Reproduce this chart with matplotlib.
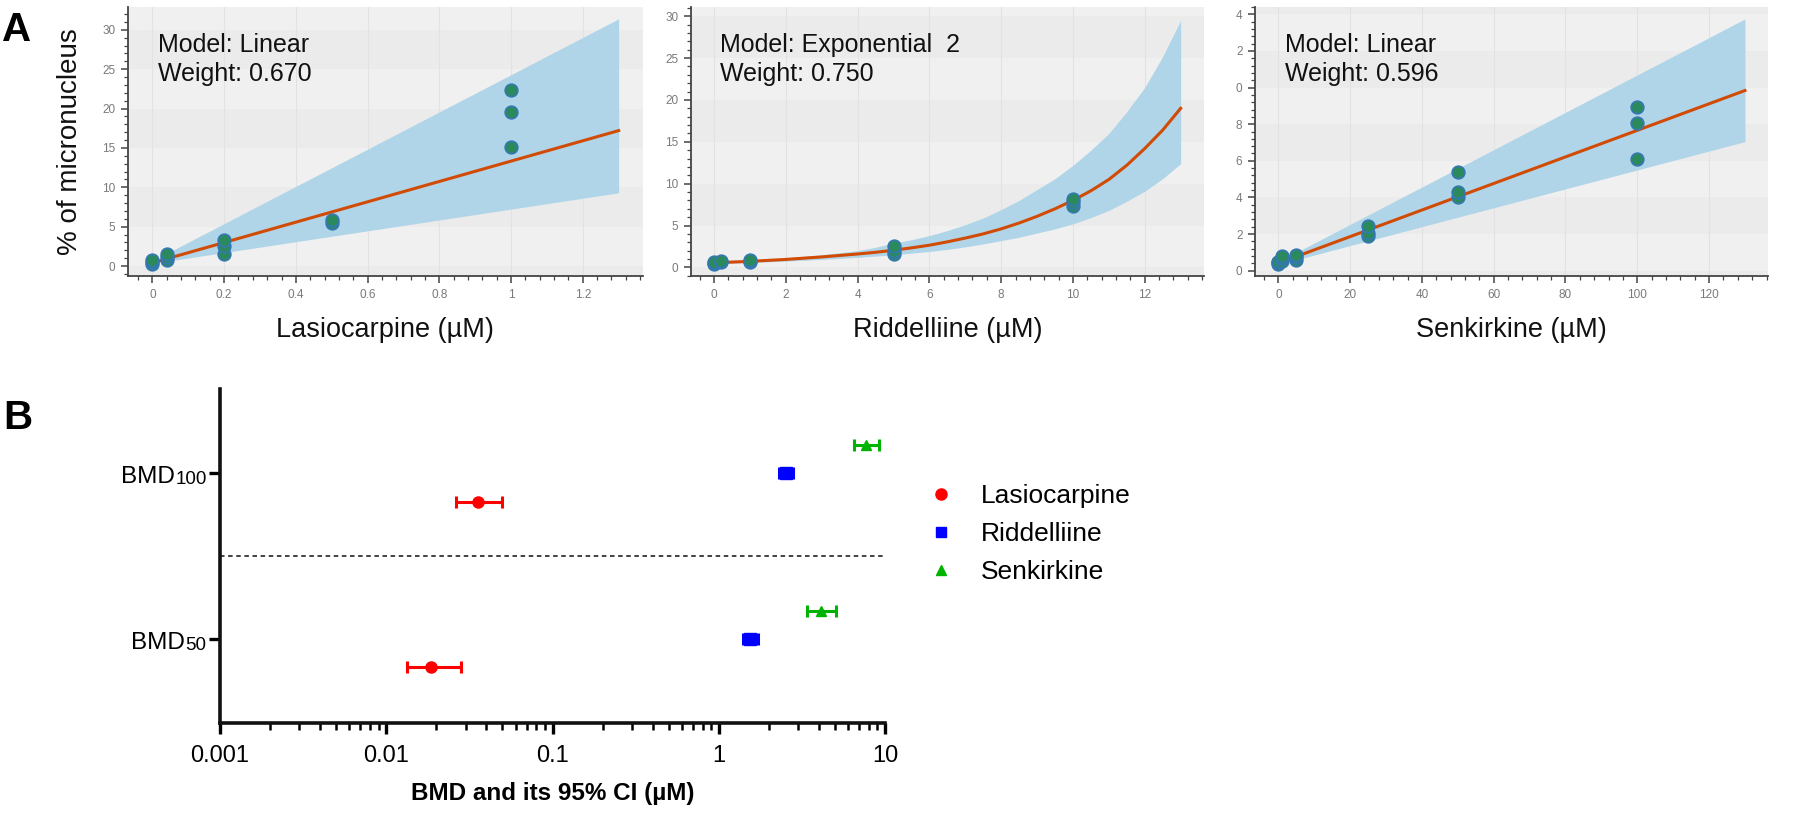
import matplotlib
matplotlib.use("Agg")
import matplotlib.pyplot as plt
from matplotlib.lines import Line2D
from matplotlib.ticker import MultipleLocator, LogLocator, NullFormatter
from matplotlib.transforms import blended_transform_factory, offset_copy

plt.rcParams['font.family'] = ['Liberation Sans', 'DejaVu Sans']

# ---------------- Panel A data ----------------
las_dose = [0, 0, 0, 0.04, 0.04, 0.04, 0.2, 0.2, 0.2, 0.5, 0.5, 1, 1, 1]
las_mn = [0.3, 0.5, 0.8, 0.8, 1.1, 1.5, 1.5, 2.5, 3.3, 5.5, 5.8, 15.1, 19.5, 22.3]
las_fit_x = [0, 1.3]
las_fit_y = [0.4, 17.2]
las_band_x = [0.04, 1.3]
las_band_lo = [0.6, 9.3]
las_band_hi = [1.6, 31.4]

rid_dose = [0, 0, 0, 0.2, 0.2, 1, 1, 1, 5, 5, 5, 10, 10, 10]
rid_mn = [0.4, 0.5, 0.6, 0.6, 0.8, 0.6, 0.8, 0.9, 1.6, 2.0, 2.6, 7.3, 7.8, 8.2]
rid_fit_x = [0, 1, 2, 3, 4, 4.5, 5, 5.5, 6, 6.5, 7, 7.5, 8, 8.5, 9, 9.5, 10,
             10.5, 11, 11.5, 12, 12.5, 13]
rid_fit_y = [0.55, 0.72, 0.95, 1.25, 1.6, 1.8, 2.05, 2.33, 2.65, 3.05, 3.5, 4.0, 4.6,
             5.3, 6.1, 7.0, 8.0, 9.15, 10.5, 12.2, 14.2, 16.4, 19.0]
rid_band_lo = [0.45, 0.58, 0.75, 0.95, 1.2, 1.35, 1.5, 1.7, 1.9, 2.15, 2.45, 2.8, 3.2,
               3.6, 4.1, 4.6, 5.2, 5.95, 6.8, 7.9, 9.1, 10.6, 12.4]
rid_band_hi = [0.65, 0.85, 1.1, 1.5, 2.0, 2.4, 2.9, 3.3, 3.8, 4.4, 5.1, 5.9, 6.9,
               8.0, 9.3, 10.6, 12.2, 14.0, 16.0, 18.6, 21.5, 25.2, 29.5]

sen_dose = [0, 0, 0, 1, 1, 1, 5, 5, 5, 25, 25, 25, 50, 50, 50, 100, 100, 100]
sen_mn = [0.35, 0.45, 0.5, 0.55, 0.7, 0.8, 0.6, 0.75, 0.85, 1.9, 2.05, 2.45,
          4.05, 4.3, 5.4, 6.1, 8.05, 8.95]
sen_fit_x = [0, 130]
sen_fit_y = [0.41, 9.84]
sen_band_x = [1, 130]
sen_band_lo = [0.39, 7.05]
sen_band_hi = [0.59, 13.75]

x_labels_A = ['Lasiocarpine (µM)', 'Riddelliine (µM)', 'Senkirkine (µM)']
models = ['Model: Linear\nWeight: 0.670', 'Model: Exponential  2\nWeight: 0.750',
          'Model: Linear\nWeight: 0.596']
x_ticks_1 = [0, 0.2, 0.4, 0.6, 0.8, 1, 1.2]
x_ticklabels_1 = ['0', '0.2', '0.4', '0.6', '0.8', '1', '1.2']
x_ticks_2 = [0, 2, 4, 6, 8, 10, 12]
x_ticks_3 = [0, 20, 40, 60, 80, 100, 120]
y_ticks_12 = [0, 5, 10, 15, 20, 25, 30]
y_ticks_3 = [0, 2, 4, 6, 8, 10, 12, 14]
y_ticklabels_3 = ['0', '2', '4', '6', '8', '0', '2', '4']

# ---------------- Panel B data ----------------
compounds = ['Lasiocarpine', 'Riddelliine', 'Senkirkine']
bmd_names = ['50', '100']
bmd50 = [0.0186, 1.55, 4.1]
bmd50_lo = [0.0134, 1.40, 3.4]
bmd50_hi = [0.028, 1.72, 5.05]
bmd100 = [0.0355, 2.53, 7.7]
bmd100_lo = [0.0264, 2.30, 6.5]
bmd100_hi = [0.0494, 2.80, 9.2]
b_colors = ['#ff0000', '#0000ff', '#00b300']
b_markers = ['o', 's', '^']
b_offsets = [-0.17, 0.0, 0.17]

W, H = 1800, 836
fig = plt.figure(figsize=(W / 100, H / 100), dpi=100)
fig.patch.set_facecolor('white')


def px_axes(l, r, t, b):
    return fig.add_axes([l / W, 1 - b / H, (r - l) / W, (b - t) / H])


BG_DARK = '#ebebeb'
BG_LIGHT = '#f0f0f0'
BAND = '#b0d5e8'
LINE = '#d24b05'
PT_FACE = '#2b8a5c'
PT_EDGE = '#3478b0'


def style_A(ax, xlim, ylim, xticks, yticks, xminor, yminor, xticklabels=None, yticklabels=None):
    ax.set_xlim(*xlim)
    ax.set_ylim(*ylim)
    ax.set_facecolor(BG_DARK)
    edges = sorted(set([ylim[0]] + list(yticks) + [ylim[1]]))
    for i in range(len(edges) - 1):
        if i % 2 == 1:
            ax.axhspan(edges[i], edges[i + 1], color=BG_LIGHT, zorder=0, lw=0)
    ax.set_xticks(xticks)
    ax.set_yticks(yticks)
    if xticklabels is not None:
        ax.set_xticklabels(xticklabels)
    if yticklabels is not None:
        ax.set_yticklabels(yticklabels)
    ax.xaxis.set_minor_locator(MultipleLocator(xminor))
    ax.yaxis.set_minor_locator(MultipleLocator(yminor))
    for t in xticks:
        ax.axvline(t, color='#e2e2e2', lw=0.8, zorder=0.5)
    for s in ['top', 'right']:
        ax.spines[s].set_visible(False)
    for s in ['left', 'bottom']:
        ax.spines[s].set_color('#444444')
        ax.spines[s].set_linewidth(1.3)
    ax.tick_params(which='major', direction='out', length=5, width=1.1, color='#444444',
                   labelsize=8.5, labelcolor='#7a7a7a', pad=4)
    ax.tick_params(which='minor', direction='out', length=3, width=0.9, color='#444444')


axes_px = [(128, 642.7), (690.7, 1204), (1255, 1768.3)]
top_px, bot_px = 7, 276
axA = [px_axes(l, r, top_px, bot_px) for (l, r) in axes_px]

ax = axA[0]
style_A(ax, (-0.068, 1.367), (-1.27, 32.9), x_ticks_1, y_ticks_12, 0.04, 1,
        xticklabels=x_ticklabels_1)
ax.fill_between(las_band_x, las_band_lo, las_band_hi, color=BAND, lw=0, zorder=1)
ax.plot(las_fit_x, las_fit_y, color=LINE, lw=2.2, zorder=3)
ax.plot(las_dose, las_mn, 'o', ms=9, mfc=PT_FACE, mec=PT_EDGE, mew=1.3, zorder=4)

ax = axA[1]
style_A(ax, (-0.65, 13.65), (-1.03, 31.1), x_ticks_2, y_ticks_12, 0.4, 1)
ax.fill_between(rid_fit_x, rid_band_lo, rid_band_hi, color=BAND, lw=0, zorder=1)
ax.plot(rid_fit_x, rid_fit_y, color=LINE, lw=2.2, zorder=3, solid_joinstyle='round')
ax.plot(rid_dose, rid_mn, 'o', ms=9, mfc=PT_FACE, mec=PT_EDGE, mew=1.3, zorder=4)

ax = axA[2]
style_A(ax, (-6.5, 136.5), (-0.29, 14.4), x_ticks_3, y_ticks_3, 4, 0.4,
        yticklabels=y_ticklabels_3)
ax.fill_between(sen_band_x, sen_band_lo, sen_band_hi, color=BAND, lw=0, zorder=1)
ax.plot(sen_fit_x, sen_fit_y, color=LINE, lw=2.2, zorder=3)
ax.plot(sen_dose, sen_mn, 'o', ms=9, mfc=PT_FACE, mec=PT_EDGE, mew=1.3, zorder=4)

for ax, xl, m in zip(axA, x_labels_A, models):
    ax.set_xlabel(xl, fontsize=19.5, labelpad=12, color='#111111')
    ax.text(0.058, 0.905, m, transform=ax.transAxes, va='top', ha='left',
            fontsize=18, linespacing=1.3, color='#111111', zorder=6)
axA[0].set_ylabel('% of micronucleus', fontsize=20, labelpad=14, color='#111111')

fig.text(2 / W, 1 - 11 / H, 'A', fontsize=29, fontweight='bold', va='top', ha='left')
fig.text(3 / W, 1 - 399 / H, 'B', fontsize=29, fontweight='bold', va='top', ha='left')

# ---------------- Panel B ----------------
axB = px_axes(220, 885, 389, 722.7)
axB.set_xscale('log')
axB.set_xlim(0.001, 10)
axB.set_ylim(0.495, 2.51)
axB.axhline(1.5, color='#333333', lw=1.3, ls=(0, (2.5, 2)), zorder=1)
for i, c in enumerate(compounds):
    for lvl, (v, lo, hi) in enumerate([(bmd50[i], bmd50_lo[i], bmd50_hi[i]),
                                      (bmd100[i], bmd100_lo[i], bmd100_hi[i])]):
        y = lvl + 1 + b_offsets[i]
        ms = {'o': 8, 's': 8.5, '^': 7}[b_markers[i]]
        axB.errorbar([v], [y], xerr=[[v - lo], [hi - v]], fmt=b_markers[i],
                     color=b_colors[i], ms=ms, elinewidth=2.2, capsize=4, capthick=2.2,
                     zorder=3)
axB.set_yticks([1, 2])
axB.set_yticklabels(['', ''])
ytrans = blended_transform_factory(axB.transAxes, axB.transData)
for lvl, name in enumerate(bmd_names):
    num = axB.text(0, lvl + 1, name, fontsize=13.5, ha='right', va='baseline',
                   transform=offset_copy(ytrans, fig=fig, x=-13.3, y=-10.7, units='dots'))
    axB.annotate('BMD', xy=(0, 0), xycoords=num, xytext=(-0.5, 0),
                 textcoords='offset pixels', ha='right', va='bottom', fontsize=17.5)
axB.set_xticks([0.001, 0.01, 0.1, 1, 10])
axB.set_xticklabels(['0.001', '0.01', '0.1', '1', '10'])
axB.xaxis.set_minor_locator(LogLocator(base=10, subs=[2, 3, 4, 5, 6, 7, 8, 9], numticks=20))
axB.xaxis.set_minor_formatter(NullFormatter())
for s in ['top', 'right']:
    axB.spines[s].set_visible(False)
for s in ['left', 'bottom']:
    axB.spines[s].set_linewidth(2.6)
    axB.spines[s].set_color('#111111')
axB.tick_params(axis='x', which='major', length=8, width=2.4, labelsize=17, pad=8)
axB.tick_params(axis='x', which='minor', length=5, width=1.8)
axB.tick_params(axis='y', which='major', length=8, width=2.4, labelsize=17.5, pad=3)
axB.set_xlabel('BMD and its 95% CI (µM)', fontsize=17.5, fontweight='bold', labelpad=11)

handles = [Line2D([], [], marker=m, color=c, ls='none', ms={'o': 8, 's': 7.5, '^': 7.5}[m])
           for m, c in zip(b_markers, b_colors)]
fig.legend(handles, compounds, loc='upper left', bbox_to_anchor=(928 / W, 1 - 484 / H),
           frameon=False, fontsize=19, handlelength=1.0, handletextpad=1.0,
           labelspacing=0.53, borderpad=0, borderaxespad=0)

fig.savefig('out.png', dpi=100, facecolor='white')
